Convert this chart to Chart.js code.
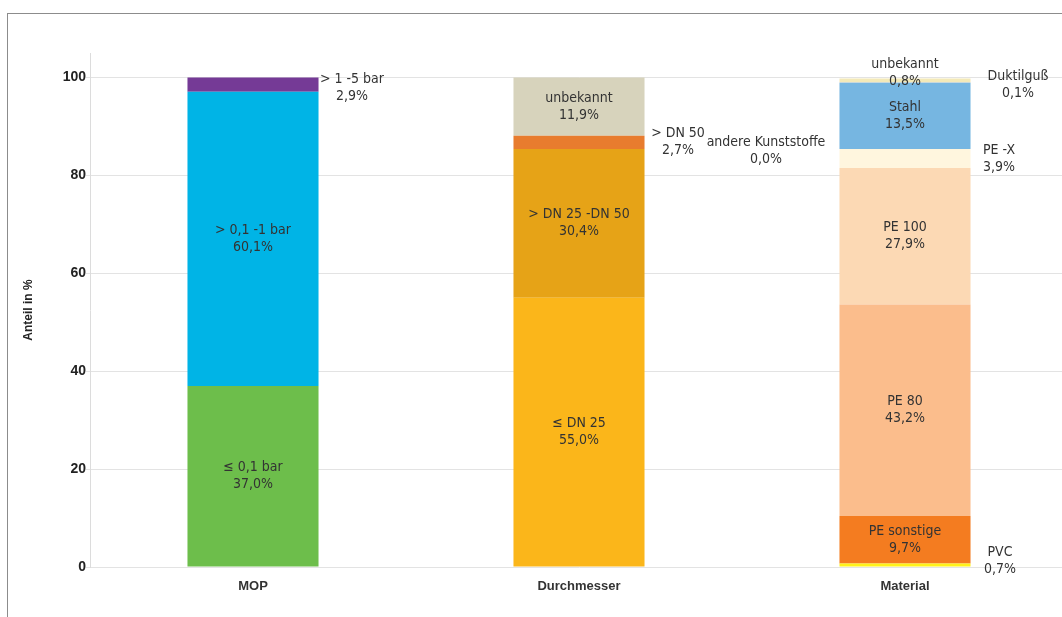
<!DOCTYPE html>
<html lang="de">
<head>
<meta charset="utf-8">
<title>Anteil in %</title>
<script src="https://cdn.jsdelivr.net/npm/chart.js@4.4.1/dist/chart.umd.min.js"></script>
<style>
  html, body { margin: 0; padding: 0; background: #fff; overflow: hidden; width: 1062px; height: 617px; }
  #frame { position: absolute; left: 7px; top: 13px; width: 1100px; height: 700px;
           border-left: 1px solid #8c8c8c; border-top: 1px solid #8c8c8c; }
  #wrap { position: absolute; left: 0; top: 0; width: 1070px; height: 617px; }
</style>
</head>
<body>
<div id="frame"></div>
<div id="wrap"><canvas id="chart" width="1070" height="617"></canvas></div>
<script>
// Categories along the x axis
const categories = ['MOP', 'Durchmesser', 'Material'];

// MOP (Betriebsdruck) shares, bottom to top
const mopSegments = ['≤ 0,1 bar', '> 0,1 -1 bar', '> 1 -5 bar'];
const mopValues = [37.0, 60.1, 2.9];

// Durchmesser shares, bottom to top
const dnSegments = ['≤ DN 25', '> DN 25 -DN 50', '> DN 50', 'unbekannt'];
const dnValues = [55.0, 30.4, 2.7, 11.9];

// Material shares, bottom to top
const materialSegments = ['PVC', 'PE sonstige', 'PE 80', 'PE 100', 'PE -X', 'Stahl', 'Duktilguß', 'andere Kunststoffe', 'unbekannt'];
const materialValues = [0.7, 9.7, 43.2, 27.9, 3.9, 13.5, 0.1, 0.0, 0.8];

// y axis ticks
const yTicks = [0, 20, 40, 60, 80, 100];

// segment colours
const mopColors = ['#6dbe4b', '#00b4e6', '#753a96'];
const dnColors = ['#fbb61a', '#e6a317', '#e87c2e', '#d7d3bc'];
const materialColors = ['#fff21a', '#f47c20', '#fbbd8c', '#fcd9b4', '#fff6de', '#76b6e1', '#cfcfc8', '#f0e6b0', '#f3e9b8'];

// labels set beside the bar instead of inside: pixel offsets from the segment centre
const outsideLabels = {
  'MOP|2': { dx: 99, dy: 3 },
  'Durchmesser|2': { dx: 99, dy: 0 },
  'Material|0': { dx: 95, dy: -4 },
  'Material|4': { dx: 94, dy: 0 },
  'Material|6': { dx: 113, dy: 2 },
  'Material|7': { dx: -139, dy: 68 },
  'Material|8': { dx: 0, dy: -8 }
};

const groups = [
  { names: mopSegments, values: mopValues, colors: mopColors },
  { names: dnSegments, values: dnValues, colors: dnColors },
  { names: materialSegments, values: materialValues, colors: materialColors }
];

const datasets = [];
groups.forEach((g, ci) => {
  g.values.forEach((v, si) => {
    const data = categories.map((_, k) => (k === ci ? v : null));
    datasets.push({
      label: g.names[si],
      data: data,
      backgroundColor: g.colors[si],
      borderWidth: 0,
      stack: 'anteil',
      _cat: ci,
      _seg: si
    });
  });
});

const fmt = v => v.toFixed(1).replace('.', ',') + '%';

// two-line label (name and share) at each segment
const segmentLabels = {
  id: 'segmentLabels',
  afterDatasetsDraw(chart) {
    const ctx = chart.ctx;
    ctx.save();
    ctx.font = '14px "Liberation Sans Narrow", "DejaVu Sans Condensed", "Roboto", sans-serif';
    ctx.fillStyle = '#333333';
    ctx.textAlign = 'center';
    ctx.textBaseline = 'middle';
    chart.data.datasets.forEach((ds, di) => {
      const meta = chart.getDatasetMeta(di);
      const el = meta.data[ds._cat];
      if (!el) return;
      const cx = el.x;
      const cy = (el.y + el.base) / 2;
      const key = categories[ds._cat] + '|' + ds._seg;
      const off = outsideLabels[key] || { dx: 0, dy: 0 };
      const x = cx + off.dx;
      const y = cy + off.dy;
      ctx.fillText(ds.label, x, y - 8.5);
      ctx.fillText(fmt(ds.data[ds._cat]), x, y + 8.5);
    });
    ctx.restore();
  }
};

new Chart(document.getElementById('chart'), {
  type: 'bar',
  data: { labels: categories, datasets: datasets },
  options: {
    responsive: false,
    animation: false,
    events: [],
    layout: { padding: { left: 0, top: 53, right: 2, bottom: 0 } },
    datasets: { bar: { categoryPercentage: 1, barPercentage: 0.402 } },
    plugins: { legend: { display: false }, tooltip: { enabled: false } },
    scales: {
      x: {
        stacked: true,
        grid: { display: false, drawTicks: false },
        border: { display: false },
        ticks: { color: '#333333', padding: 12, font: { family: '"Liberation Sans", Arial, sans-serif', size: 13, weight: 'bold' } },
        afterFit(scale) { scale.height = 50; }
      },
      y: {
        stacked: true,
        min: 0,
        max: 105,
        afterBuildTicks(scale) { scale.ticks = yTicks.map(v => ({ value: v })); },
        grid: { color: '#e3e3e3', lineWidth: 1, tickLength: 4 },
        border: { display: true, color: '#dcdcdc' },
        ticks: { color: '#222222', padding: 0, font: { family: '"Liberation Sans", Arial, sans-serif', size: 14, weight: 'bold' } },
        title: {
          display: true,
          text: 'Anteil in %',
          color: '#222222',
          padding: { top: 21, bottom: 0 },
          font: { family: '"Liberation Sans", Arial, sans-serif', size: 12, weight: 'bold' }
        },
        afterFit(scale) { scale.width = 90; }
      }
    }
  },
  plugins: [segmentLabels]
});
</script>
</body>
</html>
